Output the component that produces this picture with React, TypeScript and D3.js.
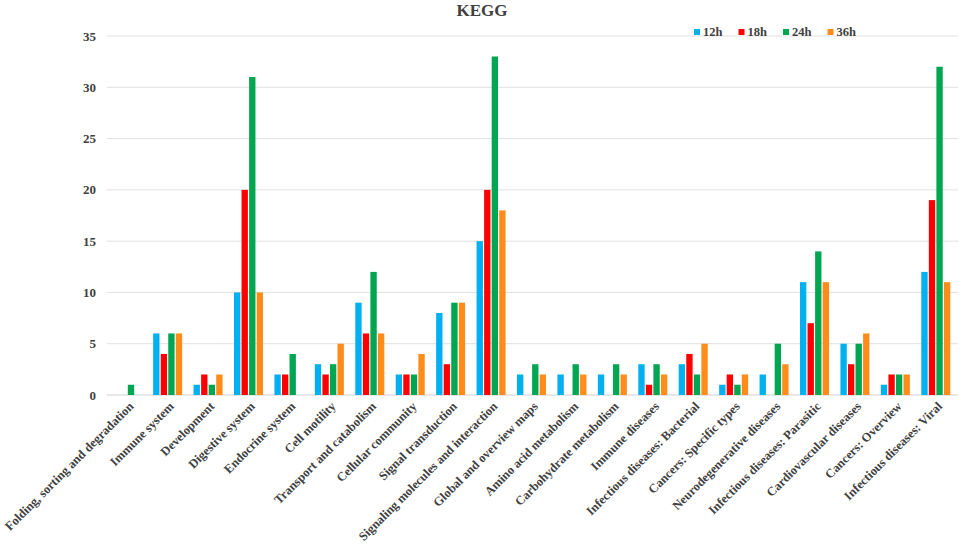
import React from "react";
import * as d3 from "d3";

const categories = [
  "Folding, sorting and degradation",
  "Immune system",
  "Development",
  "Digestive system",
  "Endocrine system",
  "Cell motility",
  "Transport and catabolism",
  "Cellular community",
  "Signal transduction",
  "Signaling molecules and interaction",
  "Global and overview maps",
  "Amino acid metabolism",
  "Carbohydrate metabolism",
  "Immune diseases",
  "Infectious diseases: Bacterial",
  "Cancers: Specific types",
  "Neurodegenerative diseases",
  "Infectious diseases: Parasitic",
  "Cardiovascular diseases",
  "Cancers: Overview",
  "Infectious diseases: Viral",
];

const seriesNames = ["12h", "18h", "24h", "36h"];
const v12h = [0, 6, 1, 10, 2, 3, 9, 2, 8, 15, 2, 2, 2, 3, 3, 1, 2, 11, 5, 1, 12];
const v18h = [0, 4, 2, 20, 2, 2, 6, 2, 3, 20, 0, 0, 0, 1, 4, 2, 0, 7, 3, 2, 19];
const v24h = [1, 6, 1, 31, 4, 3, 12, 2, 9, 33, 3, 3, 3, 3, 2, 1, 5, 14, 5, 2, 32];
const v36h = [0, 6, 2, 10, 0, 5, 6, 4, 9, 18, 2, 2, 2, 2, 5, 2, 3, 11, 6, 2, 11];
const seriesValues = [v12h, v18h, v24h, v36h];
const colors = ["#00b0f0", "#ff0000", "#00a651", "#ff8c1a"];
const yTicks = [0, 5, 10, 15, 20, 25, 30, 35];

const W = 964;
const H = 549;
const left = 107;
const right = 956;
const top = 36;
const bottom = 395;
const font = "Liberation Serif, Times New Roman, serif";

export default function App() {
  const x = d3.scaleBand<string>().domain(categories).range([left, right]).padding(0);
  const inner = d3.scaleBand<string>().domain(seriesNames).range([0, 29]).paddingInner(0.16);
  const y = d3.scaleLinear().domain([0, 35]).range([bottom, top]);
  const gw = x.bandwidth();

  return (
    <svg width={W} height={H} style={{ position: "absolute", left: 0, top: 0, background: "#fff" }} fontFamily={font}>
      <text x={482} y={16} textAnchor="middle" fontSize={17} fontWeight="bold" fill="#404040">KEGG</text>
      {yTicks.map((t) => (
        <g key={t}>
          <line x1={left} x2={right + 2} y1={y(t)} y2={y(t)} stroke={t === 0 ? "#d0d0d0" : "#e0e0e0"} strokeWidth={1} />
          <text x={96} y={y(t)} dy="0.35em" textAnchor="end" fontSize={13} fontWeight="bold" fill="#404040">{t}</text>
        </g>
      ))}
      {categories.map((c, i) => {
        const cx = (x(c) as number) + gw / 2;
        const x0 = cx - 14.5;
        return (
          <g key={c}>
            {seriesNames.map((s, si) => {
              const v = seriesValues[si][i];
              if (!v) return null;
              return (
                <rect key={s} x={x0 + (inner(s) as number)} width={inner.bandwidth()} y={y(v)} height={y(0) - y(v)} fill={colors[si]} />
              );
            })}
            <text
              transform={`translate(${cx + 4},${404}) rotate(-45)`}
              textAnchor="end"
              dy="0.35em"
              fontSize={12.5}
              fontWeight="bold"
              fill="#404040"
            >{c}</text>
          </g>
        );
      })}
      {seriesNames.map((s, si) => (
        <g key={s} transform={`translate(${694 + si * 44.5},0)`}>
          <rect x={0} y={29} width={6} height={6} fill={colors[si]} />
          <text x={9} y={32} dy="0.35em" fontSize={12.5} fontWeight="bold" fill="#404040">{s}</text>
        </g>
      ))}
    </svg>
  );
}
